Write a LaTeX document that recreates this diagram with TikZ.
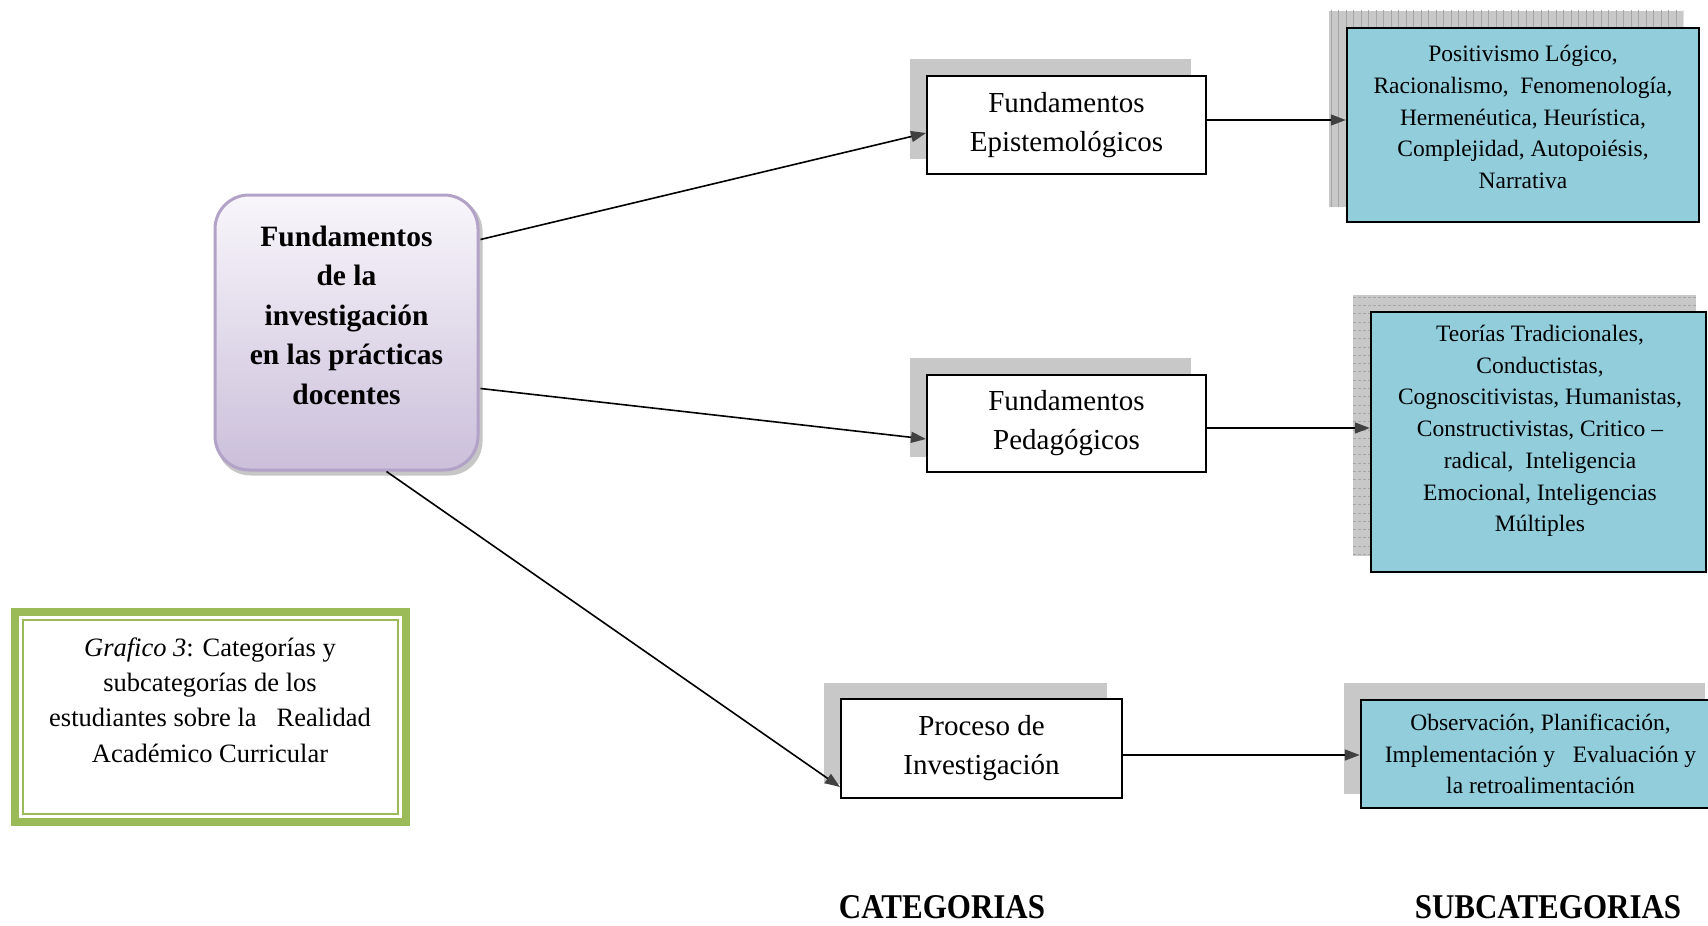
\documentclass[tikz,border=0pt]{standalone}
\usepackage{fontspec}
\usepackage{graphicx}
\setmainfont{Liberation Serif}
\usetikzlibrary{arrows.meta,calc,backgrounds}
\definecolor{subblue}{HTML}{92CDDC}
\definecolor{capgreen}{HTML}{9BBB59}
\definecolor{purpborder}{HTML}{B3A2C7}
\definecolor{purptop}{HTML}{F8F6FB}
\definecolor{purpbot}{HTML}{CBBFDA}
\definecolor{shadowgray}{HTML}{C8C8C8}
\definecolor{hatchgray}{HTML}{A6A6A6}
\definecolor{tipgray}{HTML}{404040}
\begin{document}
\begin{tikzpicture}[x=1pt,y=-1pt,
  catbox/.style={draw=black, line width=2pt, fill=white, inner sep=0pt, align=center, font=\fontsize{29}{39}\selectfont},
  subbox/.style={draw=black, line width=2.5pt, fill=subblue, inner sep=0pt, align=center, font=\fontsize{23.5}{31.7}\selectfont},
  subtext/.style={inner sep=0pt, align=center, font=\fontsize{23.5}{31.7}\selectfont},
  arr/.style={line width=1.6pt, -{Triangle[length=15pt,width=11pt,color=tipgray]}},
  headlbl/.style={font=\bfseries\fontsize{31}{36}\selectfont, inner sep=0pt}
]
\useasboundingbox (0,0) rectangle (1708,926);

% central node
\node[draw=purpborder, line width=3pt, rounded corners=34pt, top color=purptop, bottom color=purpbot,
      minimum width=263pt, minimum height=275pt, inner sep=0pt] (c) at (346.5,332.5) {};
\node[align=center, font=\bfseries\fontsize{29.5}{39.5}\selectfont, inner sep=0pt] (ct) at (346.5,315)
  {Fundamentos\\de la\\investigación\\en las prácticas\\docentes};

% categories
\node[catbox, minimum width=279pt, minimum height=98pt] (e1) at (1066.5,125) {Fundamentos\\Epistemológicos};
\node[catbox, minimum width=279pt, minimum height=97pt] (e2) at (1066.5,423.5) {Fundamentos\\Pedagógicos};
\node[catbox, minimum width=281pt, minimum height=99pt] (e3) at (981.5,748.5) {Proceso de\\Investigación};

% subcategories
\node[subbox, minimum width=352pt, minimum height=194pt] (s1) at (1523,125) {};
\node[subtext] (s1t) at (1523,117)
  {Positivismo Lógico,\\Racionalismo,\ \ Fenomenología,\\Hermenéutica, Heurística,\\Complejidad, Autopoiésis,\\Narrativa};
\node[subbox, minimum width=335pt, minimum height=260pt] (s2) at (1538.5,442) {};
\node[subtext] (s2t) at (1540,431)
  {Teorías Tradicionales,\\Conductistas,\\Cognoscitivistas, Humanistas,\\Constructivistas, Critico --\\radical,\ \ Inteligencia\\Emocional, Inteligencias\\Múltiples};
\node[subbox, minimum width=359pt, minimum height=108pt] (s3) at (1540.5,754)
  {Observación, Planificación,\\Implementación y\ \ \ Evaluación y\\la retroalimentación};

% caption
\node[draw=capgreen, line width=8pt, minimum width=391pt, minimum height=210pt, inner sep=0pt] (g) at (210.5,717) {};
\draw[capgreen, line width=2.5pt] ($(g.north west)+(12,12)$) rectangle ($(g.south east)+(-12,-12)$);
\node[align=center, font=\fontsize{26.5}{35.4}\selectfont, inner sep=0pt] (gt) at (210,700)
  {\textit{Grafico 3}: Categorías y\\subcategorías de los\\estudiantes sobre la\ \ \ Realidad\\Académico Curricular};

% shadows
\begin{scope}[on background layer]
  \fill[gray!45, rounded corners=34pt] ($(c.south west)+(3,4)$) rectangle ($(c.north east)+(3,4)$);
  \fill[shadowgray] ($(e1.south west)+(-16,-16)$) rectangle ($(e1.north east)+(-16,-16)$);
  \fill[shadowgray] ($(e2.south west)+(-16,-16)$) rectangle ($(e2.north east)+(-16,-16)$);
  \fill[shadowgray] ($(e3.south west)+(-16,-15)$) rectangle ($(e3.north east)+(-16,-15)$);
  \coordinate (s1a) at ($(s1.south west)+(-17,-16)$);
  \coordinate (s1b) at ($(s1.north east)+(-17,-16)$);
  \fill[shadowgray] (s1a) rectangle (s1b);
  \begin{scope}
    \clip (s1a) rectangle (s1b);
    \foreach \i in {0,...,50} \draw[hatchgray, line width=0.5pt] ($(s1a)+(2+\i*7.5,0)$) -- ++(0,-260);
  \end{scope}
  \coordinate (s2a) at ($(s2.south west)+(-17,-17)$);
  \coordinate (s2b) at ($(s2.north east)+(-11,-16)$);
  \fill[shadowgray] (s2a) rectangle (s2b);
  \begin{scope}
    \clip (s2a) rectangle (s2b);
    \foreach \i in {0,...,36} \draw[hatchgray, line width=0.5pt, dash pattern=on 3pt off 2pt] ($(s2a)+(0,-2-\i*8.3)$) -- ++(360,0);
  \end{scope}
  \fill[shadowgray] ($(s3.south west)+(-16,-15)$) rectangle ($(s3.north east)+(-16,-16)$);
\end{scope}

% connectors
\draw[arr] ($(c.north east)+(1,46)$) -- ($(e1.west)+(0,8)$);
\draw[arr] ($(c.north east)+(1,195)$) -- ($(e2.west)+(0,15.5)$);
\draw[arr] ($(c.south)+(40,0)$) -- ($(e3.south west)+(0,-12)$);
\coordinate (p1) at ($(e1.east)+(0,-5)$);
\coordinate (p2) at ($(e2.east)+(0,4.5)$);
\coordinate (p3) at ($(e3.east)+(0,6.5)$);
\draw[arr] (p1) -- (p1 -| s1.west);
\draw[arr] (p2) -- (p2 -| s2.west);
\draw[arr] (p3) -- (p3 -| s3.west);

% headings
\node[headlbl] (cat) at (942,907) {\scalebox{1}[1.12]{CATEGORIAS}};
\node[headlbl] (sub) at (1548,907) {\scalebox{1}[1.12]{SUBCATEGORIAS}};
\end{tikzpicture}
\end{document}
